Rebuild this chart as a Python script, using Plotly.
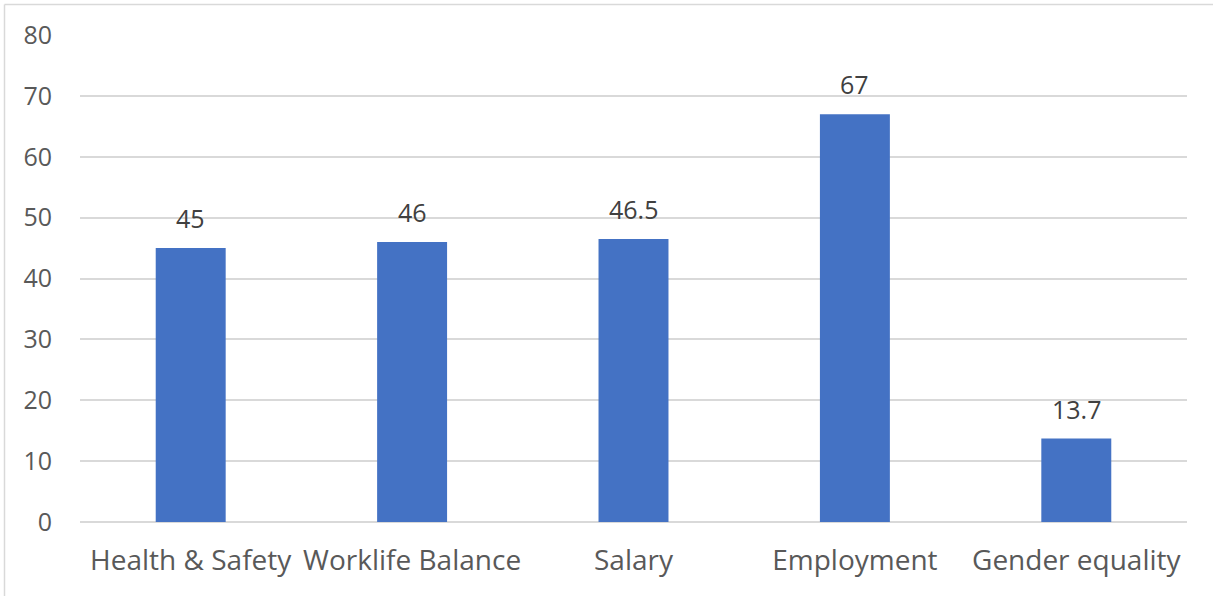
import plotly.graph_objects as go

categories = ["Health & Safety", "Worklife Balance", "Salary", "Employment", "Gender equality"]
values = [45, 46, 46.5, 67, 13.7]
value_labels = ["45", "46", "46.5", "67", "13.7"]
y_ticks = [0, 10, 20, 30, 40, 50, 60, 70, 80]

W, H = 1213, 596
L, R, T, B = 80, 26, 35, 74
pw, ph = W - L - R, H - T - B
FONT = "Open Sans, Liberation Sans, sans-serif"

fig = go.Figure()
fig.add_trace(go.Bar(
    x=categories, y=values,
    marker=dict(color="#4472C4", line=dict(width=0)),
    hoverinfo="x+y",
))

for c, v, t in zip(categories, values, value_labels):
    fig.add_annotation(x=c, y=v, text=t, showarrow=False, yanchor="bottom",
                       yshift=11, font=dict(size=25, color="#404040", family=FONT))

def px_x(p):
    return (p - L) / pw

def px_y(p):
    return (H - B - p) / ph

# outer chart border (top and left visible)
fig.add_shape(type="line", xref="paper", yref="paper",
              x0=px_x(4.5), x1=px_x(1213), y0=px_y(4.5), y1=px_y(4.5),
              line=dict(color="#D9D9D9", width=1.5))
fig.add_shape(type="line", xref="paper", yref="paper",
              x0=px_x(4.5), x1=px_x(4.5), y0=px_y(4.5), y1=px_y(596),
              line=dict(color="#D9D9D9", width=1.5))

fig.update_layout(
    width=W, height=H,
    margin=dict(l=L, r=R, t=T, b=B),
    paper_bgcolor="white", plot_bgcolor="white",
    bargap=0.684,
    showlegend=False,
    font=dict(family=FONT, color="#595959"),
    xaxis=dict(
        showgrid=False, showline=False, zeroline=False, ticks="",
        tickfont=dict(size=28, color="#595959"),
        ticklabelstandoff=19,
    ),
    yaxis=dict(
        range=[0, 80], tickvals=y_ticks,
        showgrid=True, gridcolor="#D9D9D9", gridwidth=1.5,
        zeroline=True, zerolinecolor="#D9D9D9", zerolinewidth=1.5,
        showline=False, ticks="",
        tickfont=dict(size=25, color="#595959"),
        ticklabelstandoff=27,
    ),
)

fig.write_html("out.html", config={"displayModeBar": False},
               post_script="document.body.style.margin='0';document.body.style.padding='0';")
